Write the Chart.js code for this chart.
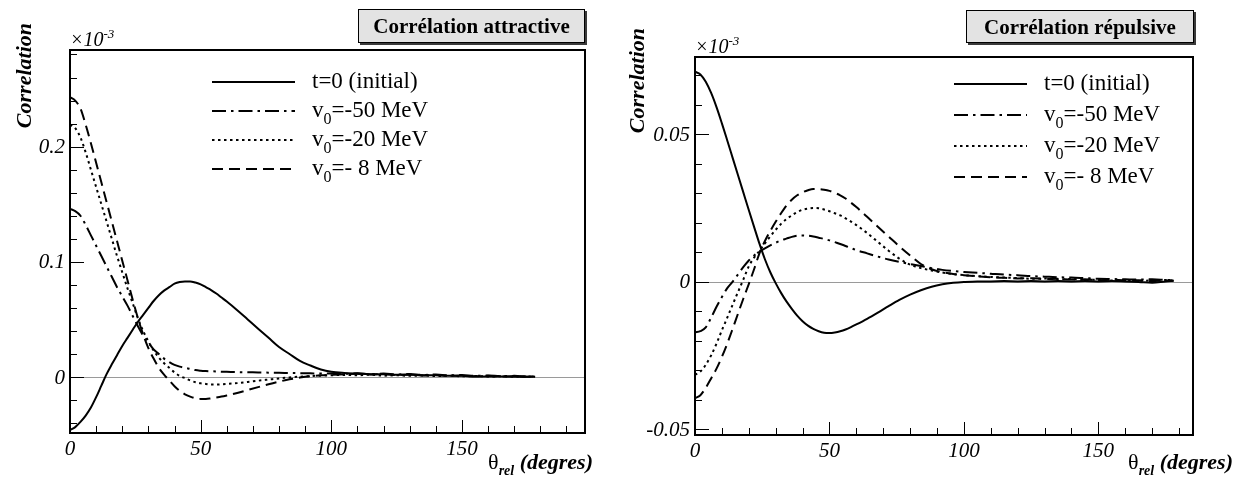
<!DOCTYPE html>
<html>
<head>
<meta charset="utf-8">
<script src="https://cdn.jsdelivr.net/npm/chart.js@4.4.1/dist/chart.umd.min.js"></script>
<style>
  html, body { margin: 0; padding: 0; background: #fff; }
  #wrap { position: relative; width: 1236px; height: 477px; overflow: hidden; }
  #wrap canvas { position: absolute; top: 0; }
</style>
</head>
<body>
<div id="wrap">
  <canvas id="attractive" width="618" height="477" style="left:0px"></canvas>
  <canvas id="repulsive" width="618" height="477" style="left:618px"></canvas>
</div>
<script>
// Relative angle (degrees)
const angles = [
  0, 2, 4, 6, 8, 10, 12, 14, 16, 18, 20, 22, 24, 26, 28, 30, 32, 34, 36, 38, 40, 42, 44, 46, 48, 50, 52, 54, 56, 58, 60,
  64, 68, 72, 76, 80, 84, 88, 92, 96, 100,
  105, 110, 115, 120, 125, 130, 135, 140, 145, 150, 155, 160, 165, 170, 175, 178
];

// Attractive correlation (units of 1e-3)
const attrInitial = [
  -0.046, -0.0435, -0.039, -0.0335, -0.0265, -0.0175, -0.0075, 0.0025, 0.011, 0.019, 0.027, 0.034, 0.041, 0.048, 0.054, 0.060,
  0.066, 0.071, 0.075, 0.078, 0.081, 0.0825, 0.083, 0.083, 0.082, 0.0805, 0.078, 0.0755, 0.0725, 0.069, 0.0655,
  0.058, 0.050, 0.042, 0.034, 0.026, 0.020, 0.014, 0.010, 0.0065, 0.0045,
  0.0035, 0.003, 0.0025, 0.0025, 0.002, 0.002, 0.0015, 0.0015, 0.001, 0.001, 0.0005, 0.0005, 0.0005, 0.0003, 0.0002, 0.0002
];
const attrV50 = [
  0.146, 0.144, 0.140, 0.132, 0.123, 0.114, 0.105, 0.096, 0.087, 0.078, 0.070, 0.062, 0.053, 0.044, 0.036, 0.030,
  0.024, 0.020, 0.016, 0.013, 0.0105, 0.009, 0.008, 0.007, 0.006, 0.0055, 0.0052, 0.005, 0.0048, 0.0046, 0.0045,
  0.0043, 0.0041, 0.004, 0.0038, 0.0036, 0.0035, 0.0033, 0.0032, 0.003, 0.003,
  0.0028, 0.0032, 0.0025, 0.003, 0.0022, 0.0026, 0.0018, 0.0022, 0.0015, 0.0018, 0.001, 0.0014, 0.0008, 0.001, 0.0005, 0.0006
];
const attrV20 = [
  0.219, 0.216, 0.208, 0.195, 0.180, 0.165, 0.150, 0.135, 0.120, 0.105, 0.091, 0.077, 0.064, 0.051, 0.040, 0.031,
  0.023, 0.017, 0.012, 0.008, 0.004, 0.001, -0.001, -0.003, -0.0045, -0.0055, -0.006, -0.0065, -0.0065, -0.0063, -0.006,
  -0.0053, -0.0043, -0.0032, -0.0022, -0.0012, -0.0004, 0.0003, 0.0008, 0.0012, 0.0015,
  0.0018, 0.0015, 0.002, 0.0012, 0.0016, 0.001, 0.0014, 0.0008, 0.0012, 0.0006, 0.0009, 0.0004, 0.0007, 0.0003, 0.0005, 0.0002
];
const attrV8 = [
  0.243, 0.240, 0.233, 0.219, 0.203, 0.186, 0.169, 0.152, 0.135, 0.118, 0.101, 0.084, 0.067, 0.051, 0.037, 0.025,
  0.016, 0.008, 0.002, -0.003, -0.008, -0.012, -0.015, -0.017, -0.0185, -0.019, -0.019, -0.0185, -0.0178, -0.017, -0.016,
  -0.0138, -0.0113, -0.0088, -0.0063, -0.004, -0.002, -0.0005, 0.0007, 0.0015, 0.002,
  0.0024, 0.0028, 0.0022, 0.0026, 0.0018, 0.0022, 0.0014, 0.0018, 0.001, 0.0014, 0.0006, 0.001, 0.0004, 0.0006, 0.0002, 0.0003
];

// Repulsive correlation (units of 1e-3)
const repInitial = [
  0.0712, 0.0703, 0.0678, 0.0640, 0.0592, 0.0537, 0.0479, 0.0420, 0.0361, 0.0302, 0.0243, 0.0185, 0.0128, 0.0076, 0.0032, -0.0005,
  -0.0038, -0.0067, -0.0092, -0.0115, -0.0134, -0.0149, -0.016, -0.0168, -0.0173, -0.0174, -0.0172, -0.0168, -0.0162, -0.0154, -0.0145,
  -0.0126, -0.0105, -0.0083, -0.0062, -0.0044, -0.0029, -0.0017, -0.0009, -0.0004, -0.0001,
  0.0001, 0.0001, 0.0002, 0.0001, 0.0002, 0.0001, 0.0002, 0.0001, 0.0002, 0.0001, 0.0002, 0.0001, -0.0001, -0.0004, 0.0001, 0.0003
];
const repV50 = [
  -0.0172, -0.0168, -0.0155, -0.0122, -0.0085, -0.0052, -0.0022, 0.0, 0.0025, 0.005, 0.0072, 0.0089, 0.0102, 0.0113, 0.0123, 0.0132,
  0.014, 0.0146, 0.0152, 0.0156, 0.0157, 0.0156, 0.0153, 0.0149, 0.0145, 0.014, 0.0134, 0.0128, 0.0121, 0.0114, 0.0107,
  0.0096, 0.0085, 0.0075, 0.0067, 0.006, 0.0053, 0.0046, 0.004, 0.0036, 0.0033,
  0.003, 0.0027, 0.0024, 0.0022, 0.0019, 0.0017, 0.0015, 0.0014, 0.0012, 0.001, 0.0009, 0.0008, 0.0007, 0.0008, 0.0006, 0.0005
];
const repV20 = [
  -0.0316, -0.0305, -0.0282, -0.025, -0.021, -0.0165, -0.0122, -0.0078, -0.0035, 0.0008, 0.0052, 0.0082, 0.0105, 0.013, 0.0154, 0.0176,
  0.0196, 0.0212, 0.0225, 0.0236, 0.0244, 0.0248, 0.025, 0.0249, 0.0245, 0.0239, 0.0232, 0.0225, 0.0215, 0.0204, 0.0192,
  0.0165, 0.0135, 0.0105, 0.0078, 0.0058, 0.0046, 0.0038, 0.0031, 0.0026, 0.0022,
  0.0019, 0.0016, 0.0014, 0.0012, 0.001, 0.0011, 0.0008, 0.0009, 0.0006, 0.0007, 0.0004, 0.0006, 0.0003, 0.0004, 0.0006, 0.0004
];
const repV8 = [
  -0.0395, -0.0385, -0.036, -0.0328, -0.0295, -0.0255, -0.021, -0.016, -0.0108, -0.0057, -0.0008, 0.0043, 0.0097, 0.0138, 0.0172, 0.0203,
  0.0232, 0.0258, 0.0278, 0.0293, 0.0303, 0.031, 0.0314, 0.0314, 0.0312, 0.0308, 0.0301, 0.0293, 0.0282, 0.0268, 0.0253,
  0.022, 0.0186, 0.0153, 0.012, 0.0089, 0.006, 0.0042, 0.0032, 0.0026, 0.0022,
  0.0018, 0.0015, 0.0013, 0.0011, 0.0012, 0.0009, 0.001, 0.0007, 0.0008, 0.0005, 0.0007, 0.0004, 0.0005, 0.0002, 0.0004, 0.0003
];

const seriesLabels = ['t=0 (initial)', 'v_0=-50 MeV', 'v_0=-20 MeV', 'v_0=- 8 MeV'];
const panelTitles = ['Corrélation attractive', 'Corrélation répulsive'];
const xTickValues = [0, 50, 100, 150];
const xTickLabels = ['0', '50', '100', '150'];
const attrYTickValues = [0, 0.1, 0.2];
const attrYTickLabels = ['0', '0.1', '0.2'];
const repYTickValues = [-0.05, 0, 0.05];
const repYTickLabels = ['-0.05', '0', '0.05'];
const yAxisTitle = 'Correlation';
const xAxisSymbol = 'θ';
const xAxisSub = 'rel';
const xAxisUnit = ' (degres)';
const exponentBase = '×10';
const exponentPower = '-3';

const SERIF = '"Liberation Serif", "Times New Roman", serif';
const lineDashes = [[], [14, 5, 2.5, 5], [2.5, 3.5], [11, 6]];

// draws a run of text pieces with individual fonts / vertical offsets
function drawParts(ctx, parts, x, y, align) {
  let total = 0;
  parts.forEach(p => { ctx.font = p.font; p.w = ctx.measureText(p.t).width; total += p.w; });
  let cx = align === 'right' ? x - total : (align === 'center' ? x - total / 2 : x);
  ctx.textAlign = 'left';
  ctx.textBaseline = 'alphabetic';
  parts.forEach(p => { ctx.font = p.font; ctx.fillText(p.t, cx, y + (p.dy || 0)); cx += p.w; });
}

function labelParts(label, size) {
  const i = label.indexOf('_');
  if (i < 0) return [{ t: label, font: size + 'px ' + SERIF }];
  return [
    { t: label.slice(0, i), font: size + 'px ' + SERIF },
    { t: label.charAt(i + 1), font: Math.round(size * 0.68) + 'px ' + SERIF, dy: 7 },
    { t: label.slice(i + 2), font: size + 'px ' + SERIF }
  ];
}

const rootPanel = {
  id: 'rootPanel',
  beforeDatasetsDraw(chart, args, o) {
    const ctx = chart.ctx, a = chart.chartArea, ys = chart.scales.y;
    const y0 = Math.round(ys.getPixelForValue(0)) + 0.5;
    ctx.save();
    ctx.strokeStyle = '#9a9a9a';
    ctx.lineWidth = 1;
    ctx.beginPath(); ctx.moveTo(a.left, y0); ctx.lineTo(a.right, y0); ctx.stroke();
    ctx.restore();
  },
  afterDatasetsDraw(chart, args, o) {
    const ctx = chart.ctx, a = chart.chartArea, xs = chart.scales.x, ys = chart.scales.y;
    ctx.save();
    ctx.strokeStyle = '#000';
    ctx.fillStyle = '#000';
    // axis ticks, drawn inward
    ctx.lineWidth = 1;
    ctx.beginPath();
    const step = (min, max, s, major, fn) => {
      for (let i = Math.ceil(min / s - 1e-9); i * s <= max + 1e-9; i++) {
        const v = i * s, r = v / major;
        fn(v, Math.abs(r - Math.round(r)) < 1e-6);
      }
    };
    step(xs.min, xs.max, o.xMinor, o.xMajor, (v, big) => {
      const px = Math.round(xs.getPixelForValue(v)) + 0.5;
      ctx.moveTo(px, a.bottom); ctx.lineTo(px, a.bottom - (big ? 13 : 7));
    });
    step(ys.min, ys.max, o.yMinor, o.yMajor, (v, big) => {
      const py = Math.round(ys.getPixelForValue(v)) + 0.5;
      ctx.moveTo(a.left, py); ctx.lineTo(a.left + (big ? 14 : 7), py);
    });
    ctx.stroke();
    // frame
    ctx.lineWidth = 2;
    ctx.strokeRect(a.left, a.top, a.right - a.left, a.bottom - a.top);
    // tick labels
    ctx.font = 'italic 21px ' + SERIF;
    ctx.textAlign = 'center';
    ctx.textBaseline = 'alphabetic';
    xTickValues.forEach((v, i) => ctx.fillText(xTickLabels[i], xs.getPixelForValue(v), a.bottom + 22));
    ctx.textAlign = 'right';
    ctx.textBaseline = 'middle';
    o.yTickValues.forEach((v, i) => ctx.fillText(o.yTickLabels[i], a.left - 5, ys.getPixelForValue(v) + 1));
    // exponent
    drawParts(ctx, [
      { t: exponentBase, font: 'italic 20px ' + SERIF },
      { t: exponentPower, font: 'italic 13px ' + SERIF, dy: -8 }
    ], a.left, a.top - 4, 'left');
    // y title
    ctx.save();
    ctx.translate(o.yTitleX, o.yTitleTop);
    ctx.rotate(-Math.PI / 2);
    ctx.font = 'bold italic 22px ' + SERIF;
    ctx.textAlign = 'right';
    ctx.textBaseline = 'alphabetic';
    ctx.fillText(yAxisTitle, 0, 0);
    ctx.restore();
    // x title
    drawParts(ctx, [
      { t: xAxisSymbol, font: '22px ' + SERIF },
      { t: xAxisSub, font: 'bold italic 14px ' + SERIF, dy: 6 },
      { t: xAxisUnit, font: 'bold italic 22px ' + SERIF }
    ], o.xTitleRight, 469, 'right');
    ctx.restore();
  },
  afterDraw(chart, args, o) {
    const ctx = chart.ctx;
    ctx.save();
    // title box with shadow
    const b = o.box;
    ctx.fillStyle = '#3a3a3a';
    ctx.fillRect(b.x + 2, b.y + 2, b.w, b.h);
    ctx.fillStyle = '#e3e3e3';
    ctx.fillRect(b.x, b.y, b.w, b.h);
    ctx.strokeStyle = '#000';
    ctx.lineWidth = 1;
    ctx.strokeRect(b.x + 0.5, b.y + 0.5, b.w - 1, b.h - 1);
    ctx.fillStyle = '#000';
    ctx.font = 'bold 21px ' + SERIF;
    ctx.textAlign = 'center';
    ctx.textBaseline = 'alphabetic';
    ctx.fillText(o.title, b.x + b.w / 2, b.y + b.h / 2 + 7);
    // legend
    const L = o.legend;
    chart.data.datasets.forEach((ds, i) => {
      const y = L.rows[i];
      ctx.strokeStyle = '#000';
      ctx.lineWidth = 2;
      ctx.setLineDash(ds.borderDash || []);
      ctx.beginPath(); ctx.moveTo(L.x0, y); ctx.lineTo(L.x1, y); ctx.stroke();
      ctx.setLineDash([]);
      ctx.fillStyle = '#000';
      drawParts(ctx, labelParts(ds.label, 23), L.textX, y + 6, 'left');
    });
    ctx.restore();
  }
};

function makeDatasets(seriesList) {
  return seriesList.map((vals, i) => ({
    label: seriesLabels[i],
    data: angles.map((a, k) => ({ x: a, y: vals[k] })),
    borderColor: '#000',
    borderWidth: 2,
    borderDash: lineDashes[i],
    pointRadius: 0,
    fill: false,
    cubicInterpolationMode: 'monotone'
  }));
}

function makePanel(id, seriesList, cfg) {
  return new Chart(document.getElementById(id), {
    type: 'line',
    data: { datasets: makeDatasets(seriesList) },
    options: {
      responsive: false,
      animation: false,
      devicePixelRatio: 1,
      layout: { padding: cfg.padding },
      scales: {
        x: { type: 'linear', min: 0, max: cfg.xMax, display: false },
        y: { type: 'linear', min: cfg.yMin, max: cfg.yMax, display: false }
      },
      plugins: {
        legend: { display: false },
        tooltip: { enabled: false },
        rootPanel: cfg.panel
      }
    },
    plugins: [rootPanel]
  });
}

makePanel('attractive', [attrInitial, attrV50, attrV20, attrV8], {
  padding: { left: 70, right: 33, top: 50, bottom: 44 },
  xMax: 197.1, yMin: -0.0486, yMax: 0.2839,
  panel: {
    xMinor: 10, xMajor: 50, yMinor: 0.02, yMajor: 0.1,
    yTickValues: attrYTickValues, yTickLabels: attrYTickLabels,
    yTitleX: 31, yTitleTop: 23, xTitleRight: 593,
    title: panelTitles[0],
    box: { x: 358, y: 9, w: 227, h: 34 },
    legend: { x0: 212, x1: 295, textX: 312, rows: [82, 111, 140, 169] }
  }
});

makePanel('repulsive', [repInitial, repV50, repV20, repV8], {
  padding: { left: 77, right: 43, top: 57, bottom: 42 },
  xMax: 185.2, yMin: -0.052, yMax: 0.0762,
  panel: {
    xMinor: 10, xMajor: 50, yMinor: 0.01, yMajor: 0.05,
    yTickValues: repYTickValues, yTickLabels: repYTickLabels,
    yTitleX: 26, yTitleTop: 28, xTitleRight: 615,
    title: panelTitles[1],
    box: { x: 348, y: 10, w: 228, h: 33 },
    legend: { x0: 336, x1: 409, textX: 426, rows: [84, 115, 146, 177] }
  }
});
</script>
</body>
</html>
